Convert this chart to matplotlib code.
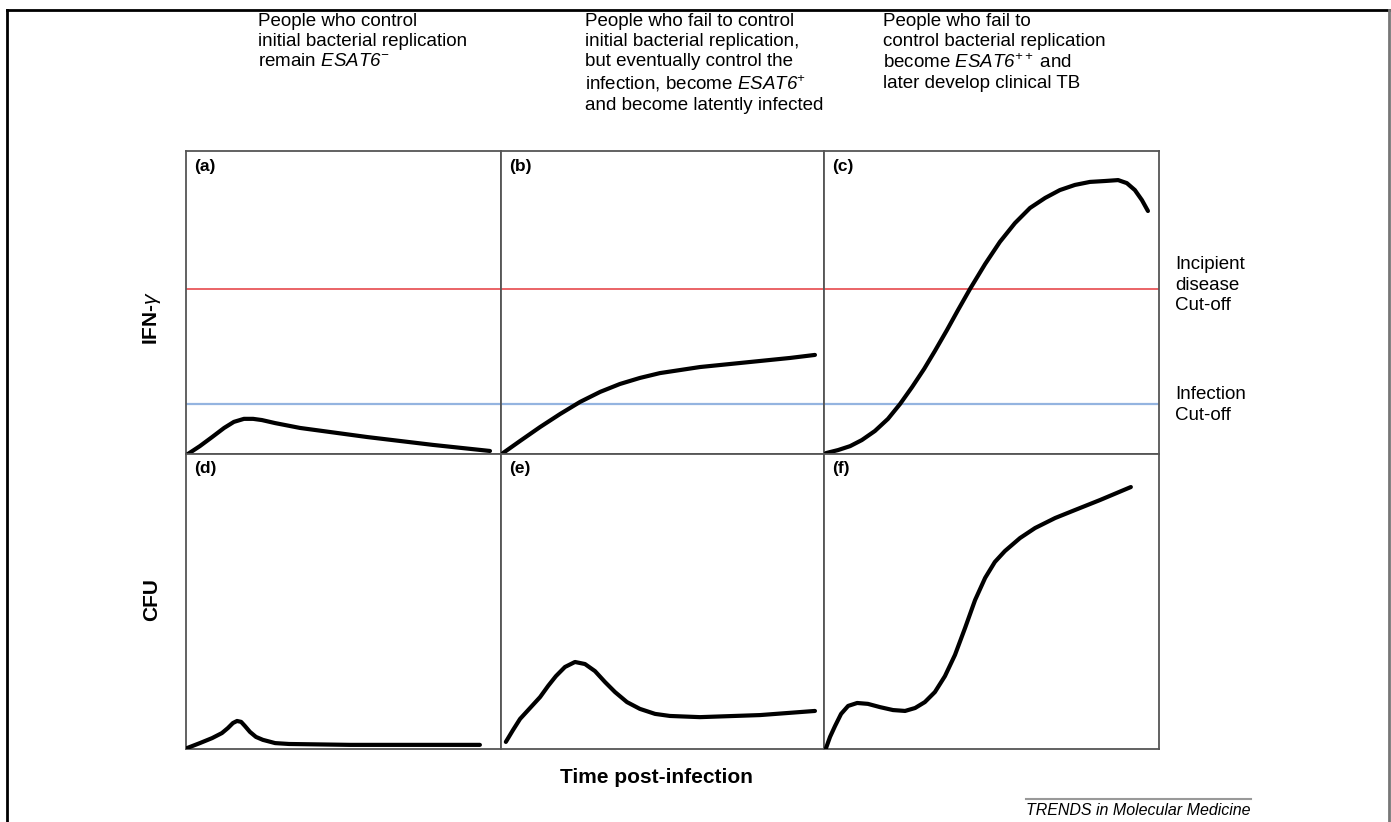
import matplotlib.pyplot as plt
from matplotlib.lines import Line2D

plt.rcParams['font.family'] = ['Liberation Sans', 'DejaVu Sans']
# math text only used for the italic ESAT6 bits and the gamma
plt.rcParams['mathtext.fontset'] = 'custom'
plt.rcParams['mathtext.rm'] = 'Liberation Sans:italic'
plt.rcParams['mathtext.it'] = 'Liberation Sans:italic'
plt.rcParams['mathtext.bf'] = 'Liberation Sans:bold'

# curves (percent of panel width / height)
a_x = [0.6, 4.4, 8.3, 12.1, 15.2, 18.4, 21.3, 24.1, 28.3, 36.2, 57.5, 78.4, 96.5]
a_y = [0.0, 2.6, 5.6, 8.6, 10.6, 11.6, 11.6, 11.2, 10.2, 8.6, 5.6, 3.0, 1.0]
b_x = [0.6, 5.9, 12.1, 18.3, 24.5, 30.7, 36.8, 43.0, 49.2, 55.4, 61.6, 70.9, 80.2, 89.5, 97.2]
b_y = [0.3, 4.3, 8.9, 13.2, 17.2, 20.5, 23.1, 25.1, 26.7, 27.7, 28.7, 29.7, 30.7, 31.7, 32.7]
c_x = [0.6, 4.2, 7.8, 11.3, 15.2, 19.1, 22.7, 26.3, 29.9, 33.1, 36.7, 40.0, 43.6, 48.1,
       52.5, 57.0, 61.5, 66.0, 70.4, 74.9, 79.4, 83.9, 87.8, 90.4, 92.8, 94.9, 96.7]
c_y = [0.3, 1.3, 2.6, 4.6, 7.6, 11.6, 16.5, 22.1, 28.1, 34.0, 40.9, 47.5, 54.5, 62.7,
       70.0, 76.2, 81.2, 84.5, 87.1, 88.8, 89.8, 90.1, 90.4, 89.4, 87.1, 83.8, 80.2]
d_x = [0.3, 4.4, 8.3, 11.4, 13.3, 14.9, 16.2, 17.5, 18.7, 20.3, 22.2, 24.4, 28.3, 32.7, 52.1, 93.3]
d_y = [0.3, 2.0, 3.7, 5.4, 7.1, 8.8, 9.5, 9.2, 7.8, 5.8, 4.1, 3.1, 2.0, 1.7, 1.4, 1.4]
e_x = [1.5, 3.7, 5.9, 9.0, 12.1, 14.6, 17.0, 19.8, 22.9, 26.0, 29.1, 32.2, 35.3, 39.0,
       43.0, 47.7, 52.3, 61.6, 80.2, 97.2]
e_y = [2.4, 6.4, 10.2, 13.9, 17.6, 21.4, 24.7, 27.8, 29.5, 28.8, 26.4, 22.7, 19.3, 15.9,
       13.6, 11.9, 11.2, 10.8, 11.5, 12.9]
f_x = [0.6, 1.8, 3.3, 5.1, 7.2, 9.9, 13.1, 16.7, 20.6, 24.2, 27.2, 30.1, 33.1, 36.1, 39.1,
       42.1, 45.1, 48.1, 51.0, 54.0, 58.5, 63.0, 69.0, 74.9, 82.4, 91.6]
f_y = [0.3, 4.1, 7.8, 11.9, 14.6, 15.6, 15.3, 14.2, 13.2, 12.9, 13.9, 15.9, 19.3, 24.7, 31.9,
       41.0, 50.5, 58.0, 63.4, 67.1, 71.5, 74.9, 78.3, 81.0, 84.4, 88.8]

curves = [(a_x, a_y), (b_x, b_y), (c_x, c_y), (d_x, d_y), (e_x, e_y), (f_x, f_y)]
letters = ['(a)', '(b)', '(c)', '(d)', '(e)', '(f)']

incipient_cut = 54.5
infection_cut = 16.5

headers = [
    "People who control\ninitial bacterial replication\nremain $ESAT6^{-}$",
    "People who fail to control\ninitial bacterial replication,\nbut eventually control the\n"
    "infection, become $ESAT6^{+}$\nand become latently infected",
    "People who fail to\ncontrol bacterial replication\nbecome $ESAT6^{++}$ and\n"
    "later develop clinical TB",
]

W, H = 1391, 822
fig = plt.figure(figsize=(W / 100, H / 100), dpi=100)
gs = fig.add_gridspec(2, 3, left=186 / W, right=1159 / W, bottom=1 - 749 / H, top=1 - 151 / H,
                      width_ratios=[315, 323, 335], height_ratios=[303, 295],
                      wspace=0, hspace=0)

for i in range(6):
    ax = fig.add_subplot(gs[i // 3, i % 3])
    ax.set_xlim(0, 100)
    ax.set_ylim(0, 100)
    ax.set_xticks([])
    ax.set_yticks([])
    for s in ax.spines.values():
        s.set_color('#555555')
        s.set_linewidth(1.3)
    if i < 3:
        ax.axhline(incipient_cut, color='#e8575a', lw=1.3, zorder=1)
        ax.axhline(infection_cut, color='#94b4e0', lw=1.6, zorder=1)
    x, y = curves[i]
    ax.plot(x, y, color='black', lw=3.0, solid_capstyle='round', solid_joinstyle='round', zorder=3)
    ax.text(0.025, 0.975, letters[i], transform=ax.transAxes, ha='left', va='top',
            fontsize=12.5, fontweight='bold')

# column headers
for hx, txt in zip([258, 585, 883], headers):
    fig.text(hx / W, 1 - 13 / H, txt, ha='left', va='top', fontsize=13.5, linespacing=1.22)

# cut-off labels on the right
fig.text(1175 / W, 1 - 285 / H, "Incipient\ndisease\nCut-off", ha='left', va='center',
         fontsize=13.5, linespacing=1.3)
fig.text(1175 / W, 1 - 405 / H, "Infection\nCut-off", ha='left', va='center',
         fontsize=13.5, linespacing=1.3)

fig.text(152 / W, 1 - 318 / H, "IFN-$\\gamma$", rotation=90, ha='center', va='center',
         fontsize=15, fontweight='bold')
fig.text(152 / W, 1 - 600 / H, "CFU", rotation=90, ha='center', va='center',
         fontsize=15, fontweight='bold')
fig.text(656 / W, 1 - 777 / H, "Time post-infection", ha='center', va='center',
         fontsize=15, fontweight='bold')

# journal footer
fig.add_artist(Line2D([1026 / W, 1251 / W], [1 - 799 / H, 1 - 799 / H], color='#999999', lw=1.5))
fig.text(1251 / W, 1 - 810 / H, "TRENDS in Molecular Medicine", ha='right', va='center',
         fontsize=11.5, style='italic')

# outer frame
fig.add_artist(Line2D([7 / W, 7 / W], [0, 1 - 10 / H], color='black', lw=2))
fig.add_artist(Line2D([7 / W, 1389 / W], [1 - 10 / H, 1 - 10 / H], color='black', lw=2))
fig.add_artist(Line2D([1389 / W, 1389 / W], [0, 1 - 10 / H], color='#777777', lw=2))

fig.savefig('out.png', dpi=100)
